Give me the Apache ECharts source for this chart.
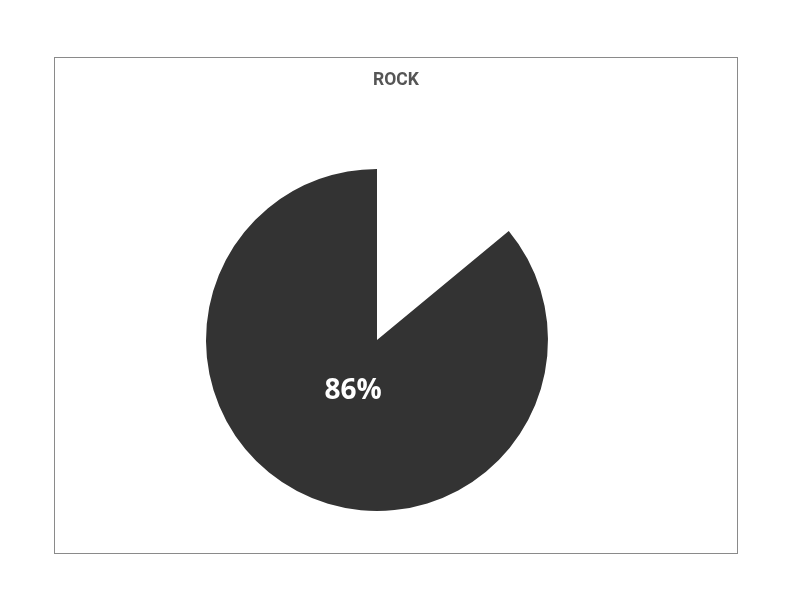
<!DOCTYPE html>
<html>
<head>
<meta charset="utf-8">
<script src="https://cdn.jsdelivr.net/npm/echarts@6/dist/echarts.min.js"></script>
<style>
html,body{margin:0;padding:0;background:#fff;}
#frame{position:absolute;left:54px;top:57px;width:682px;height:495px;border:1px solid #8a8a8a;}
#chart{position:absolute;left:0;top:0;width:792px;height:612px;}
</style>
</head>
<body>
<div id="frame"></div>
<div id="chart"></div>
<script>
const titleText = 'ROCK';
const categories = ['Other', 'Rock'];
const values = [14, 86];

const chart = echarts.init(document.getElementById('chart'), null, {renderer: 'canvas'});
const data = categories.map((c, i) => ({
  name: c,
  value: values[i],
  itemStyle: {color: i === 0 ? 'rgba(0,0,0,0)' : '#333333'}
}));
chart.setOption({
  animation: false,
  title: {
    text: titleText,
    left: 'center',
    top: 67,
    textStyle: {fontFamily: 'Roboto', fontWeight: 'bold', fontSize: 17.5, color: '#555555'}
  },
  series: [
    {
      type: 'pie',
      center: [377, 340],
      radius: 171,
      startAngle: 90,
      clockwise: true,
      silent: true,
      label: {show: false},
      labelLine: {show: false},
      data: data
    },
    {
      type: 'pie',
      center: [377, 340],
      radius: 106,
      startAngle: 90,
      clockwise: true,
      silent: true,
      itemStyle: {color: 'rgba(0,0,0,0)'},
      labelLine: {show: false},
      label: {
        show: true,
        position: 'inside',
        formatter: p => p.dataIndex === 1 ? p.value + '%' : '',
        fontFamily: 'Open Sans',
        fontWeight: 'bold',
        fontSize: 28,
        color: '#ffffff'
      },
      data: categories.map((c, i) => ({name: c, value: values[i], itemStyle: {color: 'rgba(0,0,0,0)'}}))
    }
  ]
});
</script>
</body>
</html>
